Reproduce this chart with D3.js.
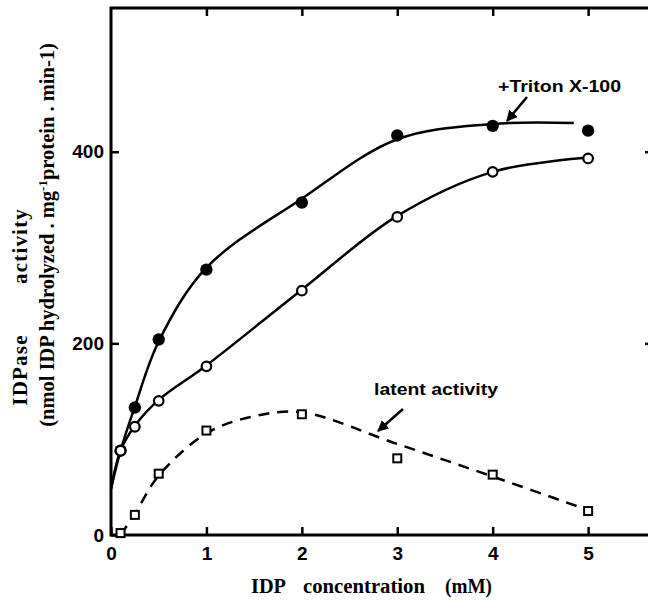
<!DOCTYPE html>
<html>
<head>
<meta charset="utf-8">
<script src="https://cdn.jsdelivr.net/npm/d3@7"></script>
<style>
  body { margin: 0; background: #fff; }
  text { fill: #000; }
</style>
</head>
<body>
<div id="chart"></div>
<script>
// measured points (IDP concentration in mM, activity in nmol/mg/min)
const concTriton = [0.1, 0.25, 0.5, 1, 2, 3, 4, 5];
const activityTriton = [88, 133, 204, 277, 347, 417, 427, 422];
const concIntact = [0.1, 0.25, 0.5, 1, 2, 3, 4, 5];
const activityIntact = [88, 113, 140, 176, 255, 332, 379, 393];
const concLatent = [0.1, 0.25, 0.5, 1, 2, 3, 4, 5];
const activityLatent = [2, 21, 64, 109, 126, 80, 63, 25];

// hand drawn fit curves
const fitTritonX = [0, 0.1, 0.25, 0.5, 1, 2, 3, 4, 4.85];
const fitTritonY = [48, 88, 134, 202, 279, 351, 413, 429, 430];
const fitIntactX = [0, 0.1, 0.25, 0.5, 1, 2, 3, 4, 5];
const fitIntactY = [48, 88, 114, 141, 177, 256, 333, 379, 394];
const fitLatentX = [0.1, 0.25, 0.5, 1, 1.5, 2, 3, 4, 5];
const fitLatentY = [0, 22, 62, 106, 124, 128, 95, 61, 26];

const xTicks = [0, 1, 2, 3, 4, 5];
const yTicks = [0, 200, 400];
const rightTicks = [200, 400];

const width = 648, height = 603;
const margins = { top: 8, right: -5, bottom: 68, left: 111 };
const innerWidth = width - margins.left - margins.right;
const innerHeight = height - margins.top - margins.bottom;

const svg = d3.select("#chart").append("svg")
  .attr("width", width)
  .attr("height", height);

const g = svg.append("g")
  .attr("transform", `translate(${margins.left},${margins.top})`);

const x = d3.scaleLinear().domain([0, 5.68]).range([0, innerWidth]);
const y = d3.scaleLinear().domain([0, 550]).range([innerHeight, 0]);

const zip = (xs, ys) => xs.map((v, i) => [v, ys[i]]);

// axes with inward ticks
const tickFont = "'Liberation Sans', Arial, sans-serif";
function styleAxis(sel, labels) {
  sel.select(".domain").remove();
  sel.selectAll(".tick line").attr("stroke", "#000").attr("stroke-width", 2.5);
  if (!labels) {
    sel.selectAll(".tick text").remove();
    return;
  }
  sel.selectAll(".tick text")
    .attr("font-family", tickFont)
    .attr("font-size", "19px")
    .attr("font-weight", "bold")
    .attr("fill", "#000");
}

g.append("g")
  .attr("transform", `translate(0,${innerHeight})`)
  .call(d3.axisBottom(x).tickValues(xTicks).tickSize(-8).tickPadding(12).tickFormat(d3.format("d")))
  .call(styleAxis, true);

g.append("g")
  .call(d3.axisTop(x).tickValues(xTicks.slice(1)).tickSize(-8))
  .call(styleAxis, false);

g.append("g")
  .call(d3.axisLeft(y).tickValues(yTicks).tickSize(-8).tickPadding(7).tickFormat(d3.format("d")))
  .call(styleAxis, true);

g.append("g")
  .attr("transform", `translate(${innerWidth},0)`)
  .call(d3.axisRight(y).tickValues(rightTicks).tickSize(-8))
  .call(styleAxis, false);

// frame
g.append("rect")
  .attr("x", 0).attr("y", 0)
  .attr("width", innerWidth).attr("height", innerHeight)
  .attr("fill", "none")
  .attr("stroke", "#000")
  .attr("stroke-width", 3);

// curves
const line = d3.line()
  .x((d) => x(d[0]))
  .y((d) => y(d[1]))
  .curve(d3.curveCatmullRom.alpha(0.5));

g.append("path")
  .attr("d", line(zip(fitTritonX, fitTritonY)))
  .attr("fill", "none").attr("stroke", "#000").attr("stroke-width", 2.5);

g.append("path")
  .attr("d", line(zip(fitIntactX, fitIntactY)))
  .attr("fill", "none").attr("stroke", "#000").attr("stroke-width", 2.5);

g.append("path")
  .attr("d", line(zip(fitLatentX, fitLatentY)))
  .attr("fill", "none").attr("stroke", "#000").attr("stroke-width", 2.5)
  .attr("stroke-dasharray", "11,8");

// markers
g.append("g").selectAll("circle")
  .data(zip(concTriton, activityTriton))
  .join("circle")
  .attr("cx", (d) => x(d[0]))
  .attr("cy", (d) => y(d[1]))
  .attr("r", 6.2)
  .attr("fill", "#000");

g.append("g").selectAll("circle")
  .data(zip(concIntact, activityIntact))
  .join("circle")
  .attr("cx", (d) => x(d[0]))
  .attr("cy", (d) => y(d[1]))
  .attr("r", 4.8)
  .attr("fill", "#fff")
  .attr("stroke", "#000")
  .attr("stroke-width", 2.2);

const sq = 8;
g.append("g").selectAll("rect")
  .data(zip(concLatent, activityLatent))
  .join("rect")
  .attr("x", (d) => x(d[0]) - sq / 2)
  .attr("y", (d) => y(d[1]) - sq / 2)
  .attr("width", sq).attr("height", sq)
  .attr("fill", "#fff")
  .attr("stroke", "#000")
  .attr("stroke-width", 2);

// annotations
const annFont = "'Liberation Sans', Arial, sans-serif";
svg.append("text")
  .attr("x", 498).attr("y", 92)
  .attr("font-family", annFont).attr("font-size", "17px").attr("font-weight", "bold")
  .attr("textLength", 123).attr("lengthAdjust", "spacingAndGlyphs")
  .text("+Triton X-100");

svg.append("text")
  .attr("x", 374).attr("y", 395)
  .attr("font-family", annFont).attr("font-size", "17px").attr("font-weight", "bold")
  .attr("textLength", 124).attr("lengthAdjust", "spacingAndGlyphs")
  .text("latent activity");

svg.append("defs").append("marker")
  .attr("id", "arrow")
  .attr("viewBox", "0 0 10 10")
  .attr("refX", 9).attr("refY", 5)
  .attr("markerWidth", 4.5).attr("markerHeight", 4.5)
  .attr("orient", "auto")
  .append("path")
  .attr("d", "M0,0 L10,5 L0,10 z")
  .attr("fill", "#000");

svg.append("line")
  .attr("x1", 527).attr("y1", 97).attr("x2", 507).attr("y2", 121)
  .attr("stroke", "#000").attr("stroke-width", 2.5)
  .attr("marker-end", "url(#arrow)");

svg.append("line")
  .attr("x1", 403).attr("y1", 409).attr("x2", 378).attr("y2", 431)
  .attr("stroke", "#000").attr("stroke-width", 2.5)
  .attr("marker-end", "url(#arrow)");

// axis titles (words placed apart, as in the figure)
const titleFont = "'Liberation Serif', 'Times New Roman', serif";
function word(str, tx, ty, len) {
  return svg.append("text")
    .attr("x", tx).attr("y", ty)
    .attr("font-family", titleFont).attr("font-size", "20px").attr("font-weight", "bold")
    .attr("textLength", len).attr("lengthAdjust", "spacingAndGlyphs")
    .text(str);
}
word("IDP", 251, 593, 35);
word("concentration", 303, 593, 122);
word("(mM)", 445, 593, 47);

function vword(str, cx, cy) {
  return svg.append("text")
    .attr("transform", `translate(${cx},${cy}) rotate(-90)`)
    .attr("text-anchor", "middle")
    .attr("font-family", titleFont).attr("font-size", "21px").attr("font-weight", "bold")
    .attr("letter-spacing", "1.2px")
    .text(str);
}
vword("IDPase", 27, 370);
vword("activity", 27, 246);

const yl2 = svg.append("text")
  .attr("transform", "translate(54,235) rotate(-90)")
  .attr("text-anchor", "middle")
  .attr("font-family", titleFont).attr("font-size", "20.5px").attr("font-weight", "bold")
  .style("white-space", "pre");
yl2.append("tspan").text("(nmol IDP hydrolyzed . mg");
yl2.append("tspan").attr("dy", -7).attr("font-size", "13px").text("-1");
yl2.append("tspan").attr("dy", 7).text("protein . min-1)");
</script>
</body>
</html>
